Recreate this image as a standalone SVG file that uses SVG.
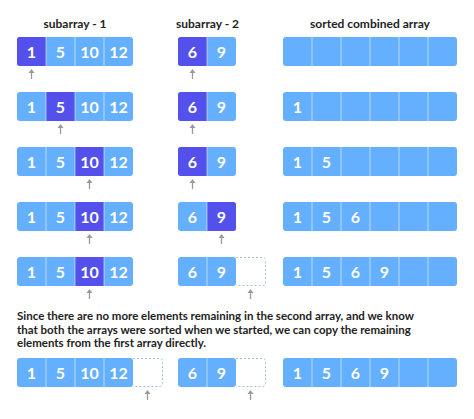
<svg xmlns="http://www.w3.org/2000/svg" width="474" height="419" viewBox="0 0 474 419">
<style>
.t{font-family:Lato,"Liberation Sans",sans-serif;font-weight:bold;fill:#222;}
.title{font-size:12px;text-anchor:middle;}
.body{font-size:11.5px;}
.n{font-family:Lato,"Liberation Sans",sans-serif;font-weight:bold;font-size:16px;fill:#fff;text-anchor:middle;}
.l{fill:#64AFFE;}
.d{fill:#5350EC;}
.sep{stroke:#ffffff;stroke-opacity:0.55;stroke-width:1;}
.dash{fill:none;stroke:#9FC3E6;stroke-width:1;stroke-dasharray:2 2;}
.arr{stroke:#9a9a9a;stroke-width:1.3;fill:none;}
.ah{fill:#9a9a9a;}
</style>
<defs>
<clipPath id="c4"><rect x="0" y="0" width="116" height="29" rx="3"/></clipPath>
<clipPath id="c2"><rect x="0" y="0" width="58" height="29" rx="3"/></clipPath>
<clipPath id="c6"><rect x="0" y="0" width="174" height="29" rx="3"/></clipPath>
<g id="arrow"><line class="arr" x1="0" y1="3" x2="0" y2="10"/><path class="ah" d="M-3,4 L0,0 L3,4 Z"/></g>
</defs>

<g id="titles">
<text class="t title" x="75" y="28">subarray - 1</text>
<text class="t title" x="207.5" y="28">subarray - 2</text>
<text class="t title" x="370" y="28">sorted combined array</text>
</g>

<!-- Row 1 -->
<g id="row1" transform="translate(0,37)">
<g id="r1a" transform="translate(17,0)" clip-path="url(#c4)">
<rect class="l" width="116" height="29"/><rect class="d" x="0" width="29" height="29"/>
<line class="sep" x1="29" y1="0" x2="29" y2="29"/><line class="sep" x1="58" y1="0" x2="58" y2="29"/><line class="sep" x1="87" y1="0" x2="87" y2="29"/>
</g>
<g transform="translate(17,0)"><text class="n" x="14.5" y="20.7">1</text><text class="n" x="43.5" y="20.7">5</text><text class="n" x="72.5" y="20.7">10</text><text class="n" x="101.5" y="20.7">12</text></g>
<g id="r1b" transform="translate(178,0)" clip-path="url(#c2)">
<rect class="l" width="58" height="29"/><rect class="d" x="0" width="29" height="29"/>
<line class="sep" x1="29" y1="0" x2="29" y2="29"/>
</g>
<g transform="translate(178,0)"><text class="n" x="14.5" y="20.7">6</text><text class="n" x="43.5" y="20.7">9</text></g>
<g id="r1c" transform="translate(283,0)" clip-path="url(#c6)">
<rect class="l" width="174" height="29"/>
<line class="sep" x1="29" y1="0" x2="29" y2="29"/><line class="sep" x1="58" y1="0" x2="58" y2="29"/><line class="sep" x1="87" y1="0" x2="87" y2="29"/><line class="sep" x1="116" y1="0" x2="116" y2="29"/><line class="sep" x1="145" y1="0" x2="145" y2="29"/>
</g>
</g>

<!-- Row 2 -->
<g id="row2" transform="translate(0,92)">
<g transform="translate(17,0)" clip-path="url(#c4)">
<rect class="l" width="116" height="29"/><rect class="d" x="29" width="29" height="29"/>
<line class="sep" x1="29" y1="0" x2="29" y2="29"/><line class="sep" x1="58" y1="0" x2="58" y2="29"/><line class="sep" x1="87" y1="0" x2="87" y2="29"/>
</g>
<g transform="translate(17,0)"><text class="n" x="14.5" y="20.7">1</text><text class="n" x="43.5" y="20.7">5</text><text class="n" x="72.5" y="20.7">10</text><text class="n" x="101.5" y="20.7">12</text></g>
<g transform="translate(178,0)" clip-path="url(#c2)">
<rect class="l" width="58" height="29"/><rect class="d" x="0" width="29" height="29"/>
<line class="sep" x1="29" y1="0" x2="29" y2="29"/>
</g>
<g transform="translate(178,0)"><text class="n" x="14.5" y="20.7">6</text><text class="n" x="43.5" y="20.7">9</text></g>
<g transform="translate(283,0)" clip-path="url(#c6)">
<rect class="l" width="174" height="29"/>
<line class="sep" x1="29" y1="0" x2="29" y2="29"/><line class="sep" x1="58" y1="0" x2="58" y2="29"/><line class="sep" x1="87" y1="0" x2="87" y2="29"/><line class="sep" x1="116" y1="0" x2="116" y2="29"/><line class="sep" x1="145" y1="0" x2="145" y2="29"/>
</g>
<g transform="translate(283,0)"><text class="n" x="14.5" y="20.7">1</text></g>
</g>

<!-- Row 3 -->
<g id="row3" transform="translate(0,147)">
<g transform="translate(17,0)" clip-path="url(#c4)">
<rect class="l" width="116" height="29"/><rect class="d" x="58" width="29" height="29"/>
<line class="sep" x1="29" y1="0" x2="29" y2="29"/><line class="sep" x1="58" y1="0" x2="58" y2="29"/><line class="sep" x1="87" y1="0" x2="87" y2="29"/>
</g>
<g transform="translate(17,0)"><text class="n" x="14.5" y="20.7">1</text><text class="n" x="43.5" y="20.7">5</text><text class="n" x="72.5" y="20.7">10</text><text class="n" x="101.5" y="20.7">12</text></g>
<g transform="translate(178,0)" clip-path="url(#c2)">
<rect class="l" width="58" height="29"/><rect class="d" x="0" width="29" height="29"/>
<line class="sep" x1="29" y1="0" x2="29" y2="29"/>
</g>
<g transform="translate(178,0)"><text class="n" x="14.5" y="20.7">6</text><text class="n" x="43.5" y="20.7">9</text></g>
<g transform="translate(283,0)" clip-path="url(#c6)">
<rect class="l" width="174" height="29"/>
<line class="sep" x1="29" y1="0" x2="29" y2="29"/><line class="sep" x1="58" y1="0" x2="58" y2="29"/><line class="sep" x1="87" y1="0" x2="87" y2="29"/><line class="sep" x1="116" y1="0" x2="116" y2="29"/><line class="sep" x1="145" y1="0" x2="145" y2="29"/>
</g>
<g transform="translate(283,0)"><text class="n" x="14.5" y="20.7">1</text><text class="n" x="43.5" y="20.7">5</text></g>
</g>

<!-- Row 4 -->
<g id="row4" transform="translate(0,202)">
<g transform="translate(17,0)" clip-path="url(#c4)">
<rect class="l" width="116" height="29"/><rect class="d" x="58" width="29" height="29"/>
<line class="sep" x1="29" y1="0" x2="29" y2="29"/><line class="sep" x1="58" y1="0" x2="58" y2="29"/><line class="sep" x1="87" y1="0" x2="87" y2="29"/>
</g>
<g transform="translate(17,0)"><text class="n" x="14.5" y="20.7">1</text><text class="n" x="43.5" y="20.7">5</text><text class="n" x="72.5" y="20.7">10</text><text class="n" x="101.5" y="20.7">12</text></g>
<g transform="translate(178,0)" clip-path="url(#c2)">
<rect class="l" width="58" height="29"/><rect class="d" x="29" width="29" height="29"/>
<line class="sep" x1="29" y1="0" x2="29" y2="29"/>
</g>
<g transform="translate(178,0)"><text class="n" x="14.5" y="20.7">6</text><text class="n" x="43.5" y="20.7">9</text></g>
<g transform="translate(283,0)" clip-path="url(#c6)">
<rect class="l" width="174" height="29"/>
<line class="sep" x1="29" y1="0" x2="29" y2="29"/><line class="sep" x1="58" y1="0" x2="58" y2="29"/><line class="sep" x1="87" y1="0" x2="87" y2="29"/><line class="sep" x1="116" y1="0" x2="116" y2="29"/><line class="sep" x1="145" y1="0" x2="145" y2="29"/>
</g>
<g transform="translate(283,0)"><text class="n" x="14.5" y="20.7">1</text><text class="n" x="43.5" y="20.7">5</text><text class="n" x="72.5" y="20.7">6</text></g>
</g>

<!-- Row 5 -->
<g id="row5" transform="translate(0,257)">
<g transform="translate(17,0)" clip-path="url(#c4)">
<rect class="l" width="116" height="29"/><rect class="d" x="58" width="29" height="29"/>
<line class="sep" x1="29" y1="0" x2="29" y2="29"/><line class="sep" x1="58" y1="0" x2="58" y2="29"/><line class="sep" x1="87" y1="0" x2="87" y2="29"/>
</g>
<g transform="translate(17,0)"><text class="n" x="14.5" y="20.7">1</text><text class="n" x="43.5" y="20.7">5</text><text class="n" x="72.5" y="20.7">10</text><text class="n" x="101.5" y="20.7">12</text></g>
<path class="dash" d="M236,0.5 H262.5 Q265.5,0.5 265.5,3.5 V25.5 Q265.5,28.5 262.5,28.5 H236"/>
<g transform="translate(178,0)" clip-path="url(#c2)">
<rect class="l" width="58" height="29"/>
<line class="sep" x1="29" y1="0" x2="29" y2="29"/>
</g>
<g transform="translate(178,0)"><text class="n" x="14.5" y="20.7">6</text><text class="n" x="43.5" y="20.7">9</text></g>
<g transform="translate(283,0)" clip-path="url(#c6)">
<rect class="l" width="174" height="29"/>
<line class="sep" x1="29" y1="0" x2="29" y2="29"/><line class="sep" x1="58" y1="0" x2="58" y2="29"/><line class="sep" x1="87" y1="0" x2="87" y2="29"/><line class="sep" x1="116" y1="0" x2="116" y2="29"/><line class="sep" x1="145" y1="0" x2="145" y2="29"/>
</g>
<g transform="translate(283,0)"><text class="n" x="14.5" y="20.7">1</text><text class="n" x="43.5" y="20.7">5</text><text class="n" x="72.5" y="20.7">6</text><text class="n" x="101.5" y="20.7">9</text></g>
</g>

<g id="note">
<text class="t body" x="17" y="320">Since there are no more elements remaining in the second array, and we know</text>
<text class="t body" x="17" y="333.5">that both the arrays were sorted when we started, we can copy the remaining</text>
<text class="t body" x="17" y="347">elements from the first array directly.</text>
</g>

<!-- Row 6 -->
<g id="row6" transform="translate(0,358)">
<path class="dash" d="M133,0.5 H159.5 Q162.5,0.5 162.5,3.5 V25.5 Q162.5,28.5 159.5,28.5 H133"/>
<g transform="translate(17,0)" clip-path="url(#c4)">
<rect class="l" width="116" height="29"/>
<line class="sep" x1="29" y1="0" x2="29" y2="29"/><line class="sep" x1="58" y1="0" x2="58" y2="29"/><line class="sep" x1="87" y1="0" x2="87" y2="29"/>
</g>
<g transform="translate(17,0)"><text class="n" x="14.5" y="20.7">1</text><text class="n" x="43.5" y="20.7">5</text><text class="n" x="72.5" y="20.7">10</text><text class="n" x="101.5" y="20.7">12</text></g>
<path class="dash" d="M236,0.5 H262.5 Q265.5,0.5 265.5,3.5 V25.5 Q265.5,28.5 262.5,28.5 H236"/>
<g transform="translate(178,0)" clip-path="url(#c2)">
<rect class="l" width="58" height="29"/>
<line class="sep" x1="29" y1="0" x2="29" y2="29"/>
</g>
<g transform="translate(178,0)"><text class="n" x="14.5" y="20.7">6</text><text class="n" x="43.5" y="20.7">9</text></g>
<g transform="translate(283,0)" clip-path="url(#c6)">
<rect class="l" width="174" height="29"/>
<line class="sep" x1="29" y1="0" x2="29" y2="29"/><line class="sep" x1="58" y1="0" x2="58" y2="29"/><line class="sep" x1="87" y1="0" x2="87" y2="29"/><line class="sep" x1="116" y1="0" x2="116" y2="29"/><line class="sep" x1="145" y1="0" x2="145" y2="29"/>
</g>
<g transform="translate(283,0)"><text class="n" x="14.5" y="20.7">1</text><text class="n" x="43.5" y="20.7">5</text><text class="n" x="72.5" y="20.7">6</text><text class="n" x="101.5" y="20.7">9</text></g>
</g>

<g id="connectors">
<use href="#arrow" x="31.5" y="69"/>
<use href="#arrow" x="192.5" y="69"/>
<use href="#arrow" x="60.5" y="124"/>
<use href="#arrow" x="192.5" y="124"/>
<use href="#arrow" x="89.5" y="179"/>
<use href="#arrow" x="192.5" y="179"/>
<use href="#arrow" x="89.5" y="234"/>
<use href="#arrow" x="221.5" y="234"/>
<use href="#arrow" x="89.5" y="289"/>
<use href="#arrow" x="250.5" y="289"/>
<use href="#arrow" x="147.5" y="390"/>
<use href="#arrow" x="250.5" y="390"/>
</g>
</svg>
